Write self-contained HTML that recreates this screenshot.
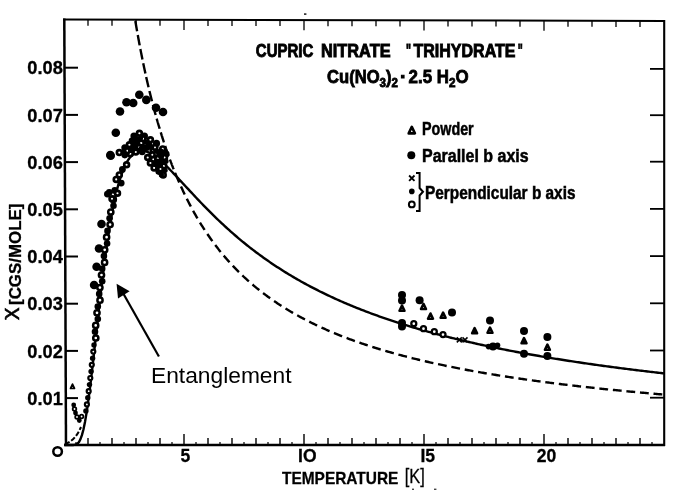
<!DOCTYPE html>
<html><head><meta charset="utf-8"><title>chart</title>
<style>html,body{margin:0;padding:0;background:#fff;}body{width:681px;height:492px;overflow:hidden;}svg{display:block;}text{font-family:"Liberation Sans",sans-serif;fill:#000;}</style>
</head><body>
<svg width="681" height="492" viewBox="0 0 681 492">
<rect width="681" height="492" fill="#fff"/>
<g filter="url(#b)">
<g stroke="#000" fill="none">
<line x1="64.3" y1="18.5" x2="66.0" y2="446" stroke-width="2.5"/>
<line x1="63" y1="19.4" x2="665" y2="21" stroke-width="2.0"/>
<line x1="664.2" y1="20" x2="664.2" y2="446" stroke-width="2.1"/>
<line x1="64.5" y1="444.9" x2="665" y2="445" stroke-width="2.5"/>
<line x1="88.0" y1="445" x2="88.0" y2="438.0" stroke-width="1.4"/>
<line x1="88.0" y1="19.7" x2="88.0" y2="25.7" stroke-width="1.3"/>
<line x1="112.0" y1="445" x2="112.0" y2="438.0" stroke-width="1.4"/>
<line x1="112.0" y1="19.7" x2="112.0" y2="25.7" stroke-width="1.3"/>
<line x1="136.0" y1="445" x2="136.0" y2="438.0" stroke-width="1.4"/>
<line x1="136.0" y1="19.8" x2="136.0" y2="25.8" stroke-width="1.3"/>
<line x1="160.0" y1="445" x2="160.0" y2="438.0" stroke-width="1.4"/>
<line x1="160.0" y1="19.8" x2="160.0" y2="25.8" stroke-width="1.3"/>
<line x1="184.0" y1="445" x2="184.0" y2="434.0" stroke-width="1.4"/>
<line x1="184.0" y1="19.9" x2="184.0" y2="29.9" stroke-width="1.3"/>
<line x1="208.0" y1="445" x2="208.0" y2="438.0" stroke-width="1.4"/>
<line x1="208.0" y1="19.9" x2="208.0" y2="25.9" stroke-width="1.3"/>
<line x1="232.0" y1="445" x2="232.0" y2="438.0" stroke-width="1.4"/>
<line x1="232.0" y1="20.0" x2="232.0" y2="26.0" stroke-width="1.3"/>
<line x1="256.0" y1="445" x2="256.0" y2="438.0" stroke-width="1.4"/>
<line x1="256.0" y1="20.0" x2="256.0" y2="26.0" stroke-width="1.3"/>
<line x1="280.0" y1="445" x2="280.0" y2="438.0" stroke-width="1.4"/>
<line x1="280.0" y1="20.1" x2="280.0" y2="26.1" stroke-width="1.3"/>
<line x1="304.0" y1="445" x2="304.0" y2="434.0" stroke-width="1.4"/>
<line x1="304.0" y1="20.2" x2="304.0" y2="30.2" stroke-width="1.3"/>
<line x1="328.0" y1="445" x2="328.0" y2="438.0" stroke-width="1.4"/>
<line x1="328.0" y1="20.2" x2="328.0" y2="26.2" stroke-width="1.3"/>
<line x1="352.0" y1="445" x2="352.0" y2="438.0" stroke-width="1.4"/>
<line x1="352.0" y1="20.3" x2="352.0" y2="26.3" stroke-width="1.3"/>
<line x1="376.0" y1="445" x2="376.0" y2="438.0" stroke-width="1.4"/>
<line x1="376.0" y1="20.3" x2="376.0" y2="26.3" stroke-width="1.3"/>
<line x1="400.0" y1="445" x2="400.0" y2="438.0" stroke-width="1.4"/>
<line x1="400.0" y1="20.4" x2="400.0" y2="26.4" stroke-width="1.3"/>
<line x1="424.0" y1="445" x2="424.0" y2="434.0" stroke-width="1.4"/>
<line x1="424.0" y1="20.4" x2="424.0" y2="30.4" stroke-width="1.3"/>
<line x1="448.0" y1="445" x2="448.0" y2="438.0" stroke-width="1.4"/>
<line x1="448.0" y1="20.5" x2="448.0" y2="26.5" stroke-width="1.3"/>
<line x1="472.0" y1="445" x2="472.0" y2="438.0" stroke-width="1.4"/>
<line x1="472.0" y1="20.6" x2="472.0" y2="26.6" stroke-width="1.3"/>
<line x1="496.0" y1="445" x2="496.0" y2="438.0" stroke-width="1.4"/>
<line x1="496.0" y1="20.6" x2="496.0" y2="26.6" stroke-width="1.3"/>
<line x1="520.0" y1="445" x2="520.0" y2="438.0" stroke-width="1.4"/>
<line x1="520.0" y1="20.7" x2="520.0" y2="26.7" stroke-width="1.3"/>
<line x1="544.0" y1="445" x2="544.0" y2="434.0" stroke-width="1.4"/>
<line x1="544.0" y1="20.7" x2="544.0" y2="30.7" stroke-width="1.3"/>
<line x1="568.0" y1="445" x2="568.0" y2="438.0" stroke-width="1.4"/>
<line x1="568.0" y1="20.8" x2="568.0" y2="26.8" stroke-width="1.3"/>
<line x1="592.0" y1="445" x2="592.0" y2="438.0" stroke-width="1.4"/>
<line x1="592.0" y1="20.8" x2="592.0" y2="26.8" stroke-width="1.3"/>
<line x1="616.0" y1="445" x2="616.0" y2="438.0" stroke-width="1.4"/>
<line x1="616.0" y1="20.9" x2="616.0" y2="26.9" stroke-width="1.3"/>
<line x1="640.0" y1="445" x2="640.0" y2="438.0" stroke-width="1.4"/>
<line x1="640.0" y1="20.9" x2="640.0" y2="26.9" stroke-width="1.3"/>
<line x1="76.0" y1="445" x2="76.0" y2="442" stroke-width="1.2"/>
<line x1="100.0" y1="445" x2="100.0" y2="442" stroke-width="1.2"/>
<line x1="124.0" y1="445" x2="124.0" y2="442" stroke-width="1.2"/>
<line x1="148.0" y1="445" x2="148.0" y2="442" stroke-width="1.2"/>
<line x1="172.0" y1="445" x2="172.0" y2="442" stroke-width="1.2"/>
<line x1="196.0" y1="445" x2="196.0" y2="442" stroke-width="1.2"/>
<line x1="220.0" y1="445" x2="220.0" y2="442" stroke-width="1.2"/>
<line x1="244.0" y1="445" x2="244.0" y2="442" stroke-width="1.2"/>
<line x1="268.0" y1="445" x2="268.0" y2="442" stroke-width="1.2"/>
<line x1="292.0" y1="445" x2="292.0" y2="442" stroke-width="1.2"/>
<line x1="316.0" y1="445" x2="316.0" y2="442" stroke-width="1.2"/>
<line x1="340.0" y1="445" x2="340.0" y2="442" stroke-width="1.2"/>
<line x1="364.0" y1="445" x2="364.0" y2="442" stroke-width="1.2"/>
<line x1="388.0" y1="445" x2="388.0" y2="442" stroke-width="1.2"/>
<line x1="412.0" y1="445" x2="412.0" y2="442" stroke-width="1.2"/>
<line x1="436.0" y1="445" x2="436.0" y2="442" stroke-width="1.2"/>
<line x1="460.0" y1="445" x2="460.0" y2="442" stroke-width="1.2"/>
<line x1="484.0" y1="445" x2="484.0" y2="442" stroke-width="1.2"/>
<line x1="508.0" y1="445" x2="508.0" y2="442" stroke-width="1.2"/>
<line x1="532.0" y1="445" x2="532.0" y2="442" stroke-width="1.2"/>
<line x1="556.0" y1="445" x2="556.0" y2="442" stroke-width="1.2"/>
<line x1="580.0" y1="445" x2="580.0" y2="442" stroke-width="1.2"/>
<line x1="604.0" y1="445" x2="604.0" y2="442" stroke-width="1.2"/>
<line x1="628.0" y1="445" x2="628.0" y2="442" stroke-width="1.2"/>
<line x1="652.0" y1="445" x2="652.0" y2="442" stroke-width="1.2"/>
<line x1="65" y1="398.1" x2="78" y2="398.1" stroke-width="2"/>
<line x1="650" y1="397.7" x2="664" y2="397.7" stroke-width="1.8"/>
<line x1="65" y1="350.9" x2="78" y2="350.9" stroke-width="2"/>
<line x1="650" y1="350.5" x2="664" y2="350.5" stroke-width="1.8"/>
<line x1="65" y1="303.7" x2="78" y2="303.7" stroke-width="2"/>
<line x1="650" y1="303.3" x2="664" y2="303.3" stroke-width="1.8"/>
<line x1="65" y1="256.5" x2="78" y2="256.5" stroke-width="2"/>
<line x1="650" y1="256.1" x2="664" y2="256.1" stroke-width="1.8"/>
<line x1="65" y1="209.3" x2="78" y2="209.3" stroke-width="2"/>
<line x1="650" y1="208.9" x2="664" y2="208.9" stroke-width="1.8"/>
<line x1="65" y1="162.1" x2="78" y2="162.1" stroke-width="2"/>
<line x1="650" y1="161.7" x2="664" y2="161.7" stroke-width="1.8"/>
<line x1="65" y1="114.9" x2="78" y2="114.9" stroke-width="2"/>
<line x1="650" y1="115.2" x2="664" y2="115.2" stroke-width="1.8"/>
<line x1="65" y1="67.7" x2="78" y2="67.7" stroke-width="2"/>
<line x1="650" y1="68.9" x2="664" y2="68.9" stroke-width="1.8"/>
</g>
<path d="M64.00,445.00 L65.50,445.00 L67.00,445.00 L68.50,445.00 L70.00,445.00 L71.50,445.00 L73.00,444.98 L74.50,444.88 L76.00,444.52 L77.50,443.65 L79.00,441.95 L80.50,439.12 L82.00,434.92 L83.50,429.20 L85.00,421.94 L86.50,413.18 L88.00,403.07 L89.50,391.80 L91.00,379.58 L92.50,366.65 L94.00,353.25 L95.50,339.60 L97.00,325.91 L98.50,312.34 L100.00,299.06 L101.50,286.18 L103.00,273.81 L104.50,262.02 L106.00,250.86 L107.50,240.37 L109.00,230.57 L110.50,221.46 L112.00,213.04 L113.50,205.30 L115.00,198.22 L116.50,191.77 L118.00,185.93 L119.50,180.67 L121.00,175.95 L122.50,171.75 L124.00,168.03 L125.50,164.76 L127.00,161.92 L128.50,159.46 L130.00,157.37 L131.50,155.61 L133.00,154.17 L134.50,153.01 L136.00,152.12 L137.50,151.47 L139.00,151.04 L140.50,150.82 L142.00,150.79 L143.50,150.92 L145.00,151.22 L146.50,151.66 L148.00,152.23 L149.50,152.91 L151.00,153.71 L152.50,154.60 L154.00,155.59 L155.50,156.65 L157.00,157.79 L158.50,158.99 L160.00,160.25 L161.50,161.56 L163.00,162.92 L164.50,164.32 L166.00,165.75 L167.50,167.22 L169.00,168.72 L170.50,170.24 L172.00,171.79 L173.50,173.35 L175.00,174.92 L176.50,176.51 L178.00,178.11 L179.50,179.72 L181.00,181.34 L182.50,182.96 L184.00,184.58 L185.50,186.20 L187.00,187.82 L188.50,189.44 L190.00,191.06 L191.50,192.67 L193.00,194.28 L194.50,195.88 L196.00,197.48 L197.50,199.06 L199.00,200.64 L200.50,202.22 L202.00,203.78 L203.50,205.33 L205.00,206.87 L206.50,208.40 L208.00,209.92 L209.50,211.43 L211.00,212.93 L212.50,214.42 L214.00,215.89 L215.50,217.36 L217.00,218.81 L218.50,220.25 L220.00,221.67 L221.50,223.09 L223.00,224.49 L224.50,225.88 L226.00,227.25 L227.50,228.62 L229.00,229.97 L230.50,231.30 L232.00,232.63 L233.50,233.94 L235.00,235.24 L236.50,236.53 L238.00,237.81 L239.50,239.07 L241.00,240.32 L242.50,241.56 L244.00,242.78 L245.50,244.00 L247.00,245.20 L248.50,246.39 L250.00,247.57 L251.50,248.74 L253.00,249.89 L254.50,251.04 L256.00,252.17 L257.50,253.29 L259.00,254.40 L260.50,255.50 L262.00,256.59 L263.50,257.66 L265.00,258.73 L266.50,259.79 L268.00,260.83 L269.50,261.87 L271.00,262.89 L272.50,263.91 L274.00,264.91 L275.50,265.91 L277.00,266.89 L278.50,267.87 L280.00,268.84 L281.50,269.79 L283.00,270.74 L284.50,271.68 L286.00,272.61 L287.50,273.53 L289.00,274.44 L290.50,275.34 L292.00,276.23 L293.50,277.12 L295.00,278.00 L296.50,278.86 L298.00,279.72 L299.50,280.57 L301.00,281.42 L302.50,282.25 L304.00,283.08 L305.50,283.90 L307.00,284.71 L308.50,285.52 L310.00,286.32 L311.50,287.11 L313.00,287.89 L314.50,288.66 L316.00,289.43 L317.50,290.19 L319.00,290.95 L320.50,291.70 L322.00,292.44 L323.50,293.17 L325.00,293.90 L326.50,294.62 L328.00,295.33 L329.50,296.04 L331.00,296.74 L332.50,297.44 L334.00,298.13 L335.50,298.81 L337.00,299.49 L338.50,300.16 L340.00,300.82 L341.50,301.48 L343.00,302.14 L344.50,302.78 L346.00,303.43 L347.50,304.06 L349.00,304.69 L350.50,305.32 L352.00,305.94 L353.50,306.56 L355.00,307.17 L356.50,307.77 L358.00,308.37 L359.50,308.97 L361.00,309.56 L362.50,310.14 L364.00,310.72 L365.50,311.30 L367.00,311.87 L368.50,312.44 L370.00,313.00 L371.50,313.56 L373.00,314.11 L374.50,314.66 L376.00,315.20 L377.50,315.74 L379.00,316.28 L380.50,316.81 L382.00,317.33 L383.50,317.85 L385.00,318.37 L386.50,318.89 L388.00,319.40 L389.50,319.90 L391.00,320.41 L392.50,320.90 L394.00,321.40 L395.50,321.89 L397.00,322.38 L398.50,322.86 L400.00,323.34 L401.50,323.82 L403.00,324.29 L404.50,324.76 L406.00,325.22 L407.50,325.68 L409.00,326.14 L410.50,326.60 L412.00,327.05 L413.50,327.50 L415.00,327.94 L416.50,328.38 L418.00,328.82 L419.50,329.26 L421.00,329.69 L422.50,330.12 L424.00,330.54 L425.50,330.96 L427.00,331.38 L428.50,331.80 L430.00,332.21 L431.50,332.63 L433.00,333.03 L434.50,333.44 L436.00,333.84 L437.50,334.24 L439.00,334.64 L440.50,335.03 L442.00,335.42 L443.50,335.81 L445.00,336.19 L446.50,336.58 L448.00,336.96 L449.50,337.34 L451.00,337.71 L452.50,338.08 L454.00,338.45 L455.50,338.82 L457.00,339.19 L458.50,339.55 L460.00,339.91 L461.50,340.27 L463.00,340.62 L464.50,340.97 L466.00,341.32 L467.50,341.67 L469.00,342.02 L470.50,342.36 L472.00,342.70 L473.50,343.04 L475.00,343.38 L476.50,343.72 L478.00,344.05 L479.50,344.38 L481.00,344.71 L482.50,345.03 L484.00,345.36 L485.50,345.68 L487.00,346.00 L488.50,346.32 L490.00,346.63 L491.50,346.95 L493.00,347.26 L494.50,347.57 L496.00,347.88 L497.50,348.19 L499.00,348.49 L500.50,348.79 L502.00,349.09 L503.50,349.39 L505.00,349.69 L506.50,349.99 L508.00,350.28 L509.50,350.57 L511.00,350.86 L512.50,351.15 L514.00,351.44 L515.50,351.72 L517.00,352.00 L518.50,352.28 L520.00,352.56 L521.50,352.84 L523.00,353.12 L524.50,353.39 L526.00,353.67 L527.50,353.94 L529.00,354.21 L530.50,354.48 L532.00,354.74 L533.50,355.01 L535.00,355.27 L536.50,355.53 L538.00,355.79 L539.50,356.05 L541.00,356.31 L542.50,356.57 L544.00,356.82 L545.50,357.08 L547.00,357.33 L548.50,357.58 L550.00,357.83 L551.50,358.07 L553.00,358.32 L554.50,358.57 L556.00,358.81 L557.50,359.05 L559.00,359.29 L560.50,359.53 L562.00,359.77 L563.50,360.01 L565.00,360.24 L566.50,360.48 L568.00,360.71 L569.50,360.94 L571.00,361.17 L572.50,361.40 L574.00,361.63 L575.50,361.86 L577.00,362.08 L578.50,362.31 L580.00,362.53 L581.50,362.75 L583.00,362.97 L584.50,363.19 L586.00,363.41 L587.50,363.63 L589.00,363.84 L590.50,364.06 L592.00,364.27 L593.50,364.48 L595.00,364.70 L596.50,364.91 L598.00,365.12 L599.50,365.32 L601.00,365.53 L602.50,365.74 L604.00,365.94 L605.50,366.15 L607.00,366.35 L608.50,366.55 L610.00,366.75 L611.50,366.95 L613.00,367.15 L614.50,367.35 L616.00,367.55 L617.50,367.74 L619.00,367.94 L620.50,368.13 L622.00,368.33 L623.50,368.52 L625.00,368.71 L626.50,368.90 L628.00,369.09 L629.50,369.28 L631.00,369.46 L632.50,369.65 L634.00,369.84 L635.50,370.02 L637.00,370.21 L638.50,370.39 L640.00,370.57 L641.50,370.75 L643.00,370.93 L644.50,371.11 L646.00,371.29 L647.50,371.47 L649.00,371.64 L650.50,371.82 L652.00,372.00 L653.50,372.17 L655.00,372.34 L656.50,372.52 L658.00,372.69 L659.50,372.86 L661.00,373.03 L662.50,373.20 L664.00,373.37" fill="none" stroke="#000" stroke-width="2.4"/>
<path d="M135.33,20.96 L135.47,21.83 L135.62,22.69 L135.77,23.56 L135.91,24.41 L136.06,25.27 L136.21,26.12 L136.35,26.97 L136.50,27.81 L136.64,28.65 L136.79,29.49 L136.94,30.32 L137.08,31.15 L137.23,31.98 L137.38,32.80 L137.52,33.62 L137.67,34.44 L137.82,35.25 L137.96,36.06 L138.11,36.87 L138.25,37.67 L138.40,38.47 L138.55,39.27 L138.69,40.07 L138.84,40.86 L138.99,41.65 L139.13,42.43 L139.28,43.22 L139.42,44.00 L139.57,44.77 L139.72,45.55 L139.86,46.32 L140.01,47.08 L140.16,47.85 L140.30,48.61 L140.45,49.37 L140.60,50.12 L140.74,50.88 L140.89,51.63 L141.03,52.37 L141.18,53.12 L141.33,53.86 L141.47,54.60 L141.62,55.33 L141.77,56.07 L141.91,56.80 L142.06,57.53 L142.21,58.25 L142.35,58.97 L142.50,59.69 L142.64,60.41 L142.79,61.12 L142.94,61.83 L143.08,62.54 L143.23,63.25 L143.38,63.95 L143.52,64.66 L143.67,65.35 L143.81,66.05 L143.96,66.74 L144.11,67.43 L144.25,68.12 L144.40,68.81 L144.55,69.49 L144.69,70.17 L144.84,70.85 L144.99,71.53 L145.13,72.20 L145.28,72.87 L145.42,73.54 L145.57,74.21 L145.72,74.87 L145.86,75.53 L146.01,76.19 L146.16,76.85 L146.30,77.50 L146.45,78.15 L146.59,78.80 L146.74,79.45 L146.89,80.10 L147.03,80.74 L147.18,81.38 L147.33,82.02 L147.47,82.66 L147.62,83.29 L147.77,83.92 L147.91,84.55 L148.06,85.18 L148.20,85.80 L148.35,86.43 L148.50,87.05 L148.64,87.67 L148.79,88.28 L148.94,88.90 L149.08,89.51 L149.23,90.12 L149.37,90.73 L149.52,91.34 L149.67,91.94 L149.81,92.54 L149.96,93.14 L150.11,93.74 L150.25,94.34 L150.40,94.93 L150.55,95.52 L150.69,96.11 L150.84,96.70 L150.98,97.28 L151.13,97.87 L151.28,98.45 L151.42,99.03 L151.57,99.61 L151.72,100.18 L151.86,100.76 L152.01,101.33 L152.15,101.90 L152.30,102.47 L152.45,103.04 L152.59,103.60 L152.74,104.16 L152.89,104.73 L153.03,105.28 L153.18,105.84 L153.33,106.40 L153.47,106.95 L153.62,107.50 L153.76,108.05 L153.91,108.60 L154.06,109.15 L154.20,109.69 L154.35,110.24 L154.50,110.78 L154.64,111.32 L154.79,111.85 L154.93,112.39 L155.08,112.93 L155.23,113.46 L155.37,113.99 L155.52,114.52 L155.67,115.05 L155.81,115.57 L155.96,116.10 L156.11,116.62 L156.25,117.14 L156.40,117.66 L156.54,118.18 L156.69,118.69 L156.84,119.21 L156.98,119.72 L157.13,120.23 L157.28,120.74 L157.42,121.25 L157.57,121.75 L157.71,122.26 L157.86,122.76 L158.01,123.26 L158.15,123.76 L158.30,124.26 L158.45,124.76 L158.59,125.25 L158.74,125.75 L158.89,126.24 L159.03,126.73 L159.18,127.22 L159.32,127.71 L159.47,128.19 L159.62,128.68 L159.76,129.16 L159.91,129.64 L160.06,130.12 L160.20,130.60 L160.35,131.08 L160.50,131.56 L160.64,132.03 L160.79,132.50 L160.93,132.98 L161.08,133.45 L161.23,133.91 L161.37,134.38 L161.52,134.85 L161.67,135.31 L161.81,135.78 L161.96,136.24 L162.10,136.70 L162.25,137.16 L162.40,137.62 L162.54,138.07 L162.69,138.53 L162.84,138.98 L162.98,139.43 L163.13,139.88 L163.28,140.33 L163.42,140.78 L163.57,141.23 L163.71,141.68 L163.86,142.12 L164.01,142.56 L164.15,143.00 L164.30,143.45 L164.45,143.88 L164.59,144.32 L164.74,144.76 L164.88,145.19 L165.03,145.63 L165.18,146.06 L165.32,146.49 L165.47,146.92 L165.62,147.35 L165.76,147.78 L165.91,148.21 L166.06,148.63 L166.20,149.06 L166.35,149.48 L166.49,149.90 L166.64,150.32 L166.79,150.74 L166.93,151.16 L167.08,151.58 L167.23,151.99 L167.37,152.41 L167.52,152.82 L167.66,153.23 L167.81,153.65 L167.96,154.06 L168.10,154.47 L168.25,154.87 L168.40,155.28 L168.54,155.68 L168.69,156.09 L168.84,156.49 L168.98,156.89 L169.13,157.30 L169.27,157.70 L169.42,158.09 L169.57,158.49 L169.71,158.89 L169.86,159.28 L170.01,159.68 L170.15,160.07 L170.30,160.46 L170.44,160.85 L170.59,161.25 L170.74,161.63 L170.88,162.02 L171.03,162.41 L171.18,162.79 L171.32,163.18 L171.47,163.56 L171.62,163.95 L171.76,164.33 L171.91,164.71 L172.05,165.09 L172.20,165.47 L172.35,165.84 L172.49,166.22 L172.64,166.60 L172.79,166.97 L172.93,167.34 L173.08,167.72 L173.22,168.09 L173.37,168.46 L173.52,168.83 L173.66,169.20 L173.81,169.56 L173.96,169.93 L174.10,170.30 L174.25,170.66 L174.40,171.02 L174.54,171.39 L174.69,171.75 L174.83,172.11 L174.98,172.47 L175.13,172.83 L175.27,173.19 L175.42,173.54 L175.57,173.90 L175.71,174.25 L175.86,174.61 L176.00,174.96 L176.15,175.31 L176.30,175.66 L176.44,176.01 L176.59,176.36 L176.74,176.71 L176.88,177.06 L177.03,177.41 L177.18,177.75 L177.32,178.10 L177.47,178.44 L177.61,178.79 L177.76,179.13 L177.91,179.47 L178.05,179.81 L178.20,180.15 L178.35,180.49 L178.49,180.83 L178.64,181.16 L178.79,181.50 L178.93,181.84 L179.08,182.17 L179.22,182.50" fill="none" stroke="#000" stroke-width="2.4" stroke-dasharray="10.5 3.8"/>
<path d="M180.98,186.44 L182.18,189.08 L183.39,191.67 L184.60,194.20 L185.81,196.69 L187.01,199.13 L188.22,201.52 L189.43,203.86 L190.64,206.16 L191.84,208.42 L193.05,210.63 L194.26,212.80 L195.47,214.94 L196.67,217.03 L197.88,219.09 L199.09,221.11 L200.30,223.09 L201.50,225.04 L202.71,226.95 L203.92,228.83 L205.13,230.68 L206.33,232.50 L207.54,234.29 L208.75,236.05 L209.96,237.78 L211.16,239.48 L212.37,241.15 L213.58,242.80 L214.79,244.41 L216.00,246.01 L217.20,247.58 L218.41,249.12 L219.62,250.64 L220.83,252.14 L222.03,253.61 L223.24,255.06 L224.45,256.49 L225.66,257.90 L226.86,259.29 L228.07,260.65 L229.28,262.00 L230.49,263.33 L231.69,264.64 L232.90,265.93 L234.11,267.20 L235.32,268.45 L236.52,269.69 L237.73,270.90 L238.94,272.11 L240.15,273.29 L241.35,274.46 L242.56,275.61 L243.77,276.75 L244.98,277.87 L246.18,278.98 L247.39,280.08 L248.60,281.15 L249.81,282.22 L251.01,283.27 L252.22,284.31 L253.43,285.33 L254.64,286.34 L255.84,287.34 L257.05,288.33 L258.26,289.30 L259.47,290.26 L260.67,291.21 L261.88,292.15 L263.09,293.08 L264.30,294.00 L265.51,294.90 L266.71,295.79 L267.92,296.68 L269.13,297.55 L270.34,298.41 L271.54,299.27 L272.75,300.11 L273.96,300.94 L275.17,301.77 L276.37,302.58 L277.58,303.39 L278.79,304.18 L280.00,304.97 L281.20,305.75 L282.41,306.52 L283.62,307.28 L284.83,308.03 L286.03,308.78 L287.24,309.52 L288.45,310.24 L289.66,310.97 L290.86,311.68 L292.07,312.38 L293.28,313.08 L294.49,313.77 L295.69,314.46 L296.90,315.14 L298.11,315.80 L299.32,316.47 L300.52,317.12 L301.73,317.77 L302.94,318.42 L304.15,319.05 L305.35,319.68 L306.56,320.31 L307.77,320.92 L308.98,321.54 L310.18,322.14 L311.39,322.74 L312.60,323.34 L313.81,323.92 L315.02,324.51 L316.22,325.08 L317.43,325.65 L318.64,326.22 L319.85,326.78 L321.05,327.34 L322.26,327.89 L323.47,328.43 L324.68,328.97 L325.88,329.51 L327.09,330.04 L328.30,330.56 L329.51,331.08 L330.71,331.60 L331.92,332.11 L333.13,332.62 L334.34,333.12 L335.54,333.62 L336.75,334.11 L337.96,334.60 L339.17,335.08 L340.37,335.56 L341.58,336.04 L342.79,336.51 L344.00,336.98 L345.20,337.44 L346.41,337.90 L347.62,338.36 L348.83,338.81 L350.03,339.26 L351.24,339.70 L352.45,340.14 L353.66,340.58 L354.86,341.01 L356.07,341.44 L357.28,341.87 L358.49,342.29 L359.69,342.71 L360.90,343.13 L362.11,343.54 L363.32,343.95 L364.53,344.36 L365.73,344.76 L366.94,345.16 L368.15,345.56 L369.36,345.95 L370.56,346.34 L371.77,346.73 L372.98,347.11 L374.19,347.49 L375.39,347.87 L376.60,348.24 L377.81,348.62 L379.02,348.99 L380.22,349.35 L381.43,349.72 L382.64,350.08 L383.85,350.44 L385.05,350.79 L386.26,351.15 L387.47,351.50 L388.68,351.84 L389.88,352.19 L391.09,352.53 L392.30,352.87 L393.51,353.21 L394.71,353.54 L395.92,353.88 L397.13,354.21 L398.34,354.54 L399.54,354.86 L400.75,355.18 L401.96,355.50 L403.17,355.82 L404.37,356.14 L405.58,356.45 L406.79,356.77 L408.00,357.08 L409.20,357.38 L410.41,357.69 L411.62,357.99 L412.83,358.29 L414.04,358.59 L415.24,358.89 L416.45,359.18 L417.66,359.48 L418.87,359.77 L420.07,360.06 L421.28,360.34 L422.49,360.63 L423.70,360.91 L424.90,361.19 L426.11,361.47 L427.32,361.75 L428.53,362.03 L429.73,362.30 L430.94,362.57 L432.15,362.84 L433.36,363.11 L434.56,363.38 L435.77,363.64 L436.98,363.91 L438.19,364.17 L439.39,364.43 L440.60,364.69 L441.81,364.94 L443.02,365.20 L444.22,365.45 L445.43,365.70 L446.64,365.95 L447.85,366.20 L449.05,366.45 L450.26,366.70 L451.47,366.94 L452.68,367.18 L453.88,367.42 L455.09,367.66 L456.30,367.90 L457.51,368.14 L458.71,368.37 L459.92,368.61 L461.13,368.84 L462.34,369.07 L463.55,369.30 L464.75,369.53 L465.96,369.75 L467.17,369.98 L468.38,370.20 L469.58,370.43 L470.79,370.65 L472.00,370.87 L473.21,371.09 L474.41,371.30 L475.62,371.52 L476.83,371.74 L478.04,371.95 L479.24,372.16 L480.45,372.37 L481.66,372.58 L482.87,372.79 L484.07,373.00 L485.28,373.21 L486.49,373.41 L487.70,373.61 L488.90,373.82 L490.11,374.02 L491.32,374.22 L492.53,374.42 L493.73,374.62 L494.94,374.81 L496.15,375.01 L497.36,375.21 L498.56,375.40 L499.77,375.59 L500.98,375.78 L502.19,375.98 L503.39,376.16 L504.60,376.35 L505.81,376.54 L507.02,376.73 L508.22,376.91 L509.43,377.10 L510.64,377.28 L511.85,377.46 L513.05,377.65 L514.26,377.83 L515.47,378.01 L516.68,378.18 L517.89,378.36 L519.09,378.54 L520.30,378.72 L521.51,378.89 L522.72,379.06 L523.92,379.24 L525.13,379.41 L526.34,379.58 L527.55,379.75 L528.75,379.92 L529.96,380.09 L531.17,380.26 L532.38,380.42 L533.58,380.59 L534.79,380.76 L536.00,380.92 L537.21,381.08 L538.41,381.25 L539.62,381.41 L540.83,381.57 L542.04,381.73 L543.24,381.89 L544.45,382.05 L545.66,382.21 L546.87,382.36 L548.07,382.52 L549.28,382.67 L550.49,382.83 L551.70,382.98 L552.90,383.14 L554.11,383.29 L555.32,383.44 L556.53,383.59 L557.73,383.74 L558.94,383.89 L560.15,384.04 L561.36,384.19 L562.56,384.33 L563.77,384.48 L564.98,384.63 L566.19,384.77 L567.40,384.92 L568.60,385.06 L569.81,385.20 L571.02,385.35 L572.23,385.49 L573.43,385.63 L574.64,385.77 L575.85,385.91 L577.06,386.05 L578.26,386.19 L579.47,386.32 L580.68,386.46 L581.89,386.60 L583.09,386.73 L584.30,386.87 L585.51,387.00 L586.72,387.14 L587.92,387.27 L589.13,387.40 L590.34,387.54 L591.55,387.67 L592.75,387.80 L593.96,387.93 L595.17,388.06 L596.38,388.19 L597.58,388.32 L598.79,388.44 L600.00,388.57 L601.21,388.70 L602.41,388.82 L603.62,388.95 L604.83,389.08 L606.04,389.20 L607.24,389.32 L608.45,389.45 L609.66,389.57 L610.87,389.69 L612.07,389.81 L613.28,389.94 L614.49,390.06 L615.70,390.18 L616.91,390.30 L618.11,390.42 L619.32,390.53 L620.53,390.65 L621.74,390.77 L622.94,390.89 L624.15,391.00 L625.36,391.12 L626.57,391.24 L627.77,391.35 L628.98,391.47 L630.19,391.58 L631.40,391.69 L632.60,391.81 L633.81,391.92 L635.02,392.03 L636.23,392.14 L637.43,392.25 L638.64,392.37 L639.85,392.48 L641.06,392.59 L642.26,392.70 L643.47,392.80 L644.68,392.91 L645.89,393.02 L647.09,393.13 L648.30,393.24 L649.51,393.34 L650.72,393.45 L651.92,393.56 L653.13,393.66 L654.34,393.77 L655.55,393.87 L656.75,393.97 L657.96,394.08 L659.17,394.18 L660.38,394.28 L661.58,394.39 L662.79,394.49 L664.00,394.59" fill="none" stroke="#000" stroke-width="2.4" stroke-dasharray="8.8 4.8"/>
<path d="M65,444 Q75,441 81,427" fill="none" stroke="#000" stroke-width="2" stroke-dasharray="5 2"/>
<circle cx="110.3" cy="155.0" r="4.3" fill="#000"/>
<circle cx="115.8" cy="132.8" r="4.3" fill="#000"/>
<circle cx="120.0" cy="111.5" r="4.3" fill="#000"/>
<circle cx="126.5" cy="102.3" r="4.3" fill="#000"/>
<circle cx="133.2" cy="103.0" r="4.3" fill="#000"/>
<circle cx="139.3" cy="94.7" r="4.3" fill="#000"/>
<circle cx="146.3" cy="99.9" r="4.3" fill="#000"/>
<circle cx="156.0" cy="107.8" r="4.3" fill="#000"/>
<circle cx="163.0" cy="112.0" r="4.3" fill="#000"/>
<circle cx="110.7" cy="155.7" r="4.3" fill="#000"/>
<circle cx="101.5" cy="224.0" r="4.3" fill="#000"/>
<circle cx="99.0" cy="248.5" r="4.3" fill="#000"/>
<circle cx="96.6" cy="266.8" r="4.3" fill="#000"/>
<circle cx="94.1" cy="285.0" r="4.3" fill="#000"/>
<circle cx="95.8" cy="338.0" r="2.6" fill="#fff" stroke="#000" stroke-width="2.5"/>
<circle cx="95.0" cy="331.7" r="3.3" fill="#000"/>
<circle cx="95.7" cy="325.4" r="2.6" fill="#fff" stroke="#000" stroke-width="2.5"/>
<circle cx="97.8" cy="319.1" r="3.3" fill="#000"/>
<circle cx="97.0" cy="312.8" r="2.6" fill="#fff" stroke="#000" stroke-width="2.5"/>
<circle cx="97.8" cy="306.5" r="3.3" fill="#000"/>
<circle cx="100.0" cy="300.2" r="2.6" fill="#fff" stroke="#000" stroke-width="2.5"/>
<circle cx="99.2" cy="293.9" r="3.3" fill="#000"/>
<circle cx="99.9" cy="287.6" r="2.6" fill="#fff" stroke="#000" stroke-width="2.5"/>
<circle cx="102.2" cy="281.3" r="3.3" fill="#000"/>
<circle cx="101.5" cy="275.0" r="2.6" fill="#fff" stroke="#000" stroke-width="2.5"/>
<circle cx="102.2" cy="268.7" r="3.3" fill="#000"/>
<circle cx="104.6" cy="262.4" r="2.6" fill="#fff" stroke="#000" stroke-width="2.5"/>
<circle cx="103.9" cy="256.1" r="3.3" fill="#000"/>
<circle cx="104.7" cy="249.8" r="2.6" fill="#fff" stroke="#000" stroke-width="2.5"/>
<circle cx="107.1" cy="243.5" r="3.3" fill="#000"/>
<circle cx="106.6" cy="237.2" r="2.6" fill="#fff" stroke="#000" stroke-width="2.5"/>
<circle cx="107.5" cy="230.9" r="3.3" fill="#000"/>
<circle cx="110.1" cy="224.6" r="2.6" fill="#fff" stroke="#000" stroke-width="2.5"/>
<circle cx="109.6" cy="218.3" r="3.3" fill="#000"/>
<circle cx="110.8" cy="212.0" r="2.6" fill="#fff" stroke="#000" stroke-width="2.5"/>
<circle cx="113.5" cy="205.7" r="3.3" fill="#000"/>
<circle cx="113.3" cy="199.4" r="2.6" fill="#fff" stroke="#000" stroke-width="2.5"/>
<circle cx="73.7" cy="404.9" r="2.4" fill="#000"/>
<circle cx="74.5" cy="409.0" r="1.8" fill="#fff" stroke="#000" stroke-width="1.8"/>
<circle cx="75.5" cy="413.0" r="2.4" fill="#000"/>
<circle cx="77.0" cy="417.0" r="1.8" fill="#fff" stroke="#000" stroke-width="1.8"/>
<circle cx="79.3" cy="420.5" r="2.4" fill="#000"/>
<circle cx="81.6" cy="416.5" r="1.8" fill="#fff" stroke="#000" stroke-width="1.8"/>
<circle cx="85.9" cy="411.0" r="2.7" fill="#000"/>
<circle cx="86.9" cy="404.4" r="2.0" fill="#fff" stroke="#000" stroke-width="2.2"/>
<circle cx="87.8" cy="397.8" r="2.7" fill="#000"/>
<circle cx="88.7" cy="391.2" r="2.0" fill="#fff" stroke="#000" stroke-width="2.2"/>
<circle cx="89.5" cy="384.6" r="2.7" fill="#000"/>
<circle cx="90.3" cy="378.0" r="2.0" fill="#fff" stroke="#000" stroke-width="2.2"/>
<circle cx="91.1" cy="371.4" r="2.7" fill="#000"/>
<circle cx="91.8" cy="364.8" r="2.0" fill="#fff" stroke="#000" stroke-width="2.2"/>
<circle cx="92.6" cy="358.2" r="2.7" fill="#000"/>
<circle cx="93.3" cy="351.6" r="2.0" fill="#fff" stroke="#000" stroke-width="2.2"/>
<circle cx="94.0" cy="345.0" r="2.7" fill="#000"/>
<path d="M72.5,384.1 L74.5,388.4 L70.5,388.4 Z" fill="#fff" stroke="#000" stroke-width="1.7" stroke-linejoin="round"/>
<circle cx="134.0" cy="136.1" r="3.6" fill="#000"/>
<circle cx="139.4" cy="133.2" r="2.4" fill="#fff" stroke="#000" stroke-width="2.7"/>
<circle cx="144.4" cy="136.1" r="3.6" fill="#000"/>
<circle cx="150.4" cy="139.8" r="2.4" fill="#fff" stroke="#000" stroke-width="2.7"/>
<circle cx="156.5" cy="143.4" r="3.6" fill="#000"/>
<circle cx="162.7" cy="148.9" r="2.4" fill="#fff" stroke="#000" stroke-width="2.7"/>
<circle cx="166.0" cy="154.0" r="3.6" fill="#000"/>
<circle cx="119.3" cy="152.6" r="2.4" fill="#fff" stroke="#000" stroke-width="2.7"/>
<circle cx="124.8" cy="147.8" r="3.5" fill="#000"/>
<circle cx="129.4" cy="144.7" r="2.4" fill="#fff" stroke="#000" stroke-width="2.7"/>
<circle cx="134.9" cy="143.8" r="3.5" fill="#000"/>
<circle cx="141.3" cy="142.9" r="2.4" fill="#fff" stroke="#000" stroke-width="2.7"/>
<circle cx="146.8" cy="147.4" r="3.5" fill="#000"/>
<circle cx="153.2" cy="150.2" r="2.4" fill="#fff" stroke="#000" stroke-width="2.7"/>
<circle cx="159.6" cy="153.8" r="3.5" fill="#000"/>
<circle cx="164.5" cy="157.5" r="2.4" fill="#fff" stroke="#000" stroke-width="2.7"/>
<circle cx="124.8" cy="155.1" r="3.3" fill="#000"/>
<circle cx="130.3" cy="153.8" r="2.4" fill="#fff" stroke="#000" stroke-width="2.7"/>
<circle cx="135.8" cy="152.0" r="2.4" fill="#fff" stroke="#000" stroke-width="2.7"/>
<circle cx="142.2" cy="152.0" r="3.3" fill="#000"/>
<circle cx="147.7" cy="157.5" r="2.4" fill="#fff" stroke="#000" stroke-width="2.7"/>
<circle cx="153.2" cy="159.3" r="2.4" fill="#fff" stroke="#000" stroke-width="2.7"/>
<circle cx="158.7" cy="163.9" r="3.3" fill="#000"/>
<circle cx="163.8" cy="166.1" r="2.4" fill="#fff" stroke="#000" stroke-width="2.7"/>
<circle cx="163.2" cy="174.9" r="2.4" fill="#fff" stroke="#000" stroke-width="2.7"/>
<circle cx="158.7" cy="171.6" r="3.3" fill="#000"/>
<circle cx="154.1" cy="167.9" r="2.4" fill="#fff" stroke="#000" stroke-width="2.7"/>
<circle cx="150.4" cy="163.0" r="2.4" fill="#fff" stroke="#000" stroke-width="2.7"/>
<circle cx="136.7" cy="139.2" r="3.1" fill="#000"/>
<circle cx="143.1" cy="138.8" r="2.3" fill="#fff" stroke="#000" stroke-width="2.7"/>
<circle cx="149.1" cy="143.8" r="3.1" fill="#000"/>
<circle cx="155.0" cy="147.4" r="2.3" fill="#fff" stroke="#000" stroke-width="2.7"/>
<circle cx="160.8" cy="151.5" r="3.1" fill="#000"/>
<circle cx="157.7" cy="158.4" r="2.3" fill="#fff" stroke="#000" stroke-width="2.7"/>
<circle cx="162.7" cy="161.7" r="3.1" fill="#000"/>
<circle cx="152.3" cy="154.8" r="2.3" fill="#fff" stroke="#000" stroke-width="2.7"/>
<circle cx="131.8" cy="140.5" r="3.1" fill="#000"/>
<circle cx="127.2" cy="150.7" r="2.3" fill="#fff" stroke="#000" stroke-width="2.7"/>
<circle cx="133.0" cy="148.7" r="3.1" fill="#000"/>
<circle cx="138.9" cy="147.4" r="2.3" fill="#fff" stroke="#000" stroke-width="2.7"/>
<circle cx="144.4" cy="147.8" r="3.1" fill="#000"/>
<circle cx="160.5" cy="169.0" r="2.3" fill="#fff" stroke="#000" stroke-width="2.7"/>
<circle cx="155.4" cy="163.9" r="3.1" fill="#000"/>
<circle cx="134.9" cy="147.4" r="2.6" fill="#000"/>
<circle cx="140.4" cy="138.3" r="2.6" fill="#000"/>
<circle cx="145.8" cy="141.9" r="2.6" fill="#000"/>
<circle cx="151.3" cy="146.5" r="2.6" fill="#000"/>
<circle cx="156.8" cy="151.1" r="2.6" fill="#000"/>
<circle cx="161.4" cy="156.6" r="2.6" fill="#000"/>
<circle cx="160.5" cy="163.9" r="2.6" fill="#000"/>
<circle cx="156.8" cy="161.2" r="2.6" fill="#000"/>
<circle cx="140.4" cy="149.3" r="2.6" fill="#000"/>
<circle cx="131.2" cy="150.2" r="2.6" fill="#000"/>
<circle cx="123.9" cy="151.5" r="2.6" fill="#000"/>
<circle cx="166.0" cy="161.2" r="2.6" fill="#000"/>
<circle cx="165.1" cy="170.3" r="2.6" fill="#000"/>
<circle cx="161.4" cy="174.9" r="2.6" fill="#000"/>
<circle cx="126.6" cy="164.8" r="2.4" fill="#fff" stroke="#000" stroke-width="2.7"/>
<circle cx="122.4" cy="169.4" r="3.4" fill="#000"/>
<circle cx="119.3" cy="174.9" r="2.4" fill="#fff" stroke="#000" stroke-width="2.7"/>
<circle cx="121.2" cy="183.1" r="3.4" fill="#000"/>
<circle cx="116.2" cy="179.4" r="2.4" fill="#fff" stroke="#000" stroke-width="2.7"/>
<circle cx="114.8" cy="190.4" r="3.4" fill="#000"/>
<circle cx="117.5" cy="193.2" r="2.4" fill="#fff" stroke="#000" stroke-width="2.7"/>
<circle cx="107.4" cy="194.1" r="3.4" fill="#000"/>
<circle cx="112.0" cy="198.7" r="2.4" fill="#fff" stroke="#000" stroke-width="2.7"/>
<circle cx="109.3" cy="192.3" r="3.4" fill="#000"/>
<circle cx="402.0" cy="295.0" r="4.0" fill="#000"/>
<circle cx="402.0" cy="300.5" r="4.0" fill="#000"/>
<circle cx="402.0" cy="323.0" r="4.0" fill="#000"/>
<circle cx="402.0" cy="326.5" r="4.0" fill="#000"/>
<circle cx="419.6" cy="300.2" r="4.0" fill="#000"/>
<circle cx="452.0" cy="312.6" r="4.0" fill="#000"/>
<circle cx="490.0" cy="320.5" r="4.0" fill="#000"/>
<circle cx="524.0" cy="331.0" r="4.0" fill="#000"/>
<circle cx="524.0" cy="353.7" r="4.0" fill="#000"/>
<circle cx="547.4" cy="337.0" r="4.0" fill="#000"/>
<circle cx="547.4" cy="356.0" r="4.0" fill="#000"/>
<circle cx="493.0" cy="346.4" r="4.0" fill="#000"/>
<path d="M402.0,305.6 L404.5,310.8 L399.5,310.8 Z" fill="#fff" stroke="#000" stroke-width="2.5" stroke-linejoin="round"/>
<path d="M423.5,303.8 L426.0,309.0 L421.0,309.0 Z" fill="#fff" stroke="#000" stroke-width="2.5" stroke-linejoin="round"/>
<path d="M430.5,313.5 L433.0,318.7 L428.0,318.7 Z" fill="#fff" stroke="#000" stroke-width="2.5" stroke-linejoin="round"/>
<path d="M443.1,312.6 L445.6,317.8 L440.6,317.8 Z" fill="#fff" stroke="#000" stroke-width="2.5" stroke-linejoin="round"/>
<path d="M474.6,328.1 L477.1,333.3 L472.1,333.3 Z" fill="#fff" stroke="#000" stroke-width="2.5" stroke-linejoin="round"/>
<path d="M490.0,327.6 L492.5,332.8 L487.5,332.8 Z" fill="#fff" stroke="#000" stroke-width="2.5" stroke-linejoin="round"/>
<path d="M524.0,338.1 L526.5,343.3 L521.5,343.3 Z" fill="#fff" stroke="#000" stroke-width="2.5" stroke-linejoin="round"/>
<path d="M547.4,344.6 L549.9,349.8 L544.9,349.8 Z" fill="#fff" stroke="#000" stroke-width="2.5" stroke-linejoin="round"/>
<circle cx="413.8" cy="323.7" r="2.5" fill="#fff" stroke="#000" stroke-width="2.3"/>
<circle cx="423.5" cy="328.7" r="2.5" fill="#fff" stroke="#000" stroke-width="2.3"/>
<circle cx="434.3" cy="331.7" r="2.5" fill="#fff" stroke="#000" stroke-width="2.3"/>
<circle cx="443.0" cy="334.6" r="2.5" fill="#fff" stroke="#000" stroke-width="2.3"/>
<circle cx="488.5" cy="346.6" r="2.8" fill="#000"/>
<circle cx="497.5" cy="345.2" r="2.8" fill="#000"/>
<path d="M456.8,337.4 L461.8,342.4 M456.8,342.4 L461.8,337.4" stroke="#000" stroke-width="1.5" fill="none"/>
<path d="M462.5,337.4 L467.5,342.4 M462.5,342.4 L467.5,337.4" stroke="#000" stroke-width="1.5" fill="none"/>
<circle cx="57.6" cy="451.5" r="4.3" fill="#fff" stroke="#000" stroke-width="2.5"/>
<path d="M411.8,126.9 L414.9,133.4 L408.7,133.4 Z" fill="#fff" stroke="#000" stroke-width="2.6" stroke-linejoin="round"/>
<circle cx="411.3" cy="155.3" r="4.0" fill="#000"/>
<path d="M409.1,175.5 L414.5,180.9 M409.1,180.9 L414.5,175.5" stroke="#000" stroke-width="1.8" fill="none"/>
<circle cx="411.8" cy="191.4" r="2.8" fill="#000"/>
<circle cx="411.8" cy="204.4" r="2.9" fill="#fff" stroke="#000" stroke-width="2.0"/>
<path d="M416,173 L419.6,173 L419.6,188 L423,191.8 L419.6,195.5 L419.6,211 L416,211" fill="none" stroke="#000" stroke-width="2"/>
<rect x="304" y="13.3" width="2.4" height="1.6" fill="#222"/>
<rect x="412" y="488.6" width="2" height="1.4" fill="#444"/>
<rect x="434" y="488.6" width="2.4" height="1.4" fill="#444"/>
<line x1="158.9" y1="356.5" x2="123" y2="293" stroke="#000" stroke-width="2.2"/>
<path d="M116.6,283.8 L129.6,291.3 L118,298.6 Z" fill="#000"/>
</g>
<g filter="url(#b2)" stroke="#000" stroke-width="0.3">
<text x="255.8" y="57.2" font-size="18.0" font-weight="bold" text-anchor="start" textLength="57.5" lengthAdjust="spacingAndGlyphs" stroke-width="0.9">CUPRIC</text>
<text x="321.0" y="57.2" font-size="18.0" font-weight="bold" text-anchor="start" textLength="69.6" lengthAdjust="spacingAndGlyphs" stroke-width="0.9">NITRATE</text>
<text x="406.0" y="57.2" font-size="18.0" font-weight="bold" text-anchor="start" textLength="5.0" lengthAdjust="spacingAndGlyphs" stroke-width="0.9">&quot;</text>
<text x="413.5" y="57.2" font-size="18.0" font-weight="bold" text-anchor="start" textLength="102.0" lengthAdjust="spacingAndGlyphs" stroke-width="0.9">TRIHYDRATE</text>
<text x="517.7" y="57.2" font-size="18.0" font-weight="bold" text-anchor="start" textLength="5.0" lengthAdjust="spacingAndGlyphs" stroke-width="0.9">&quot;</text>
<text x="327" y="82.6" font-size="18" stroke-width="0.8" font-weight="bold" textLength="71" lengthAdjust="spacingAndGlyphs">Cu(NO<tspan dy="4" font-size="12.5">3</tspan><tspan dy="-4">)</tspan><tspan dy="4" font-size="12.5">2</tspan></text>
<text x="400.3" y="82.6" font-size="18" stroke-width="1.2" font-weight="bold">·</text>
<text x="408.6" y="82.6" font-size="18" stroke-width="0.8" font-weight="bold" textLength="60" lengthAdjust="spacingAndGlyphs">2.5 H<tspan dy="4" font-size="12.5">2</tspan><tspan dy="-4">O</tspan></text>
<text x="422.0" y="135.4" font-size="17.5" font-weight="bold" text-anchor="start" textLength="51.7" lengthAdjust="spacingAndGlyphs" stroke-width="0.5">Powder</text>
<text x="422.0" y="161.9" font-size="17.5" font-weight="bold" text-anchor="start" textLength="106.6" lengthAdjust="spacingAndGlyphs" stroke-width="0.5">Parallel b axis</text>
<text x="425.0" y="198.9" font-size="17.5" font-weight="bold" text-anchor="start" textLength="150.5" lengthAdjust="spacingAndGlyphs" stroke-width="0.5">Perpendicular b axis</text>
<text x="27.3" y="404.8" font-size="18.0" font-weight="bold" text-anchor="start" textLength="35.5" lengthAdjust="spacingAndGlyphs" >0.01</text>
<text x="27.3" y="357.6" font-size="18.0" font-weight="bold" text-anchor="start" textLength="35.5" lengthAdjust="spacingAndGlyphs" >0.02</text>
<text x="27.3" y="310.4" font-size="18.0" font-weight="bold" text-anchor="start" textLength="35.5" lengthAdjust="spacingAndGlyphs" >0.03</text>
<text x="27.3" y="263.2" font-size="18.0" font-weight="bold" text-anchor="start" textLength="35.5" lengthAdjust="spacingAndGlyphs" >0.04</text>
<text x="27.3" y="216.0" font-size="18.0" font-weight="bold" text-anchor="start" textLength="35.5" lengthAdjust="spacingAndGlyphs" >0.05</text>
<text x="27.3" y="168.8" font-size="18.0" font-weight="bold" text-anchor="start" textLength="35.5" lengthAdjust="spacingAndGlyphs" >0.06</text>
<text x="27.3" y="121.6" font-size="18.0" font-weight="bold" text-anchor="start" textLength="35.5" lengthAdjust="spacingAndGlyphs" >0.07</text>
<text x="27.3" y="74.4" font-size="18.0" font-weight="bold" text-anchor="start" textLength="35.5" lengthAdjust="spacingAndGlyphs" >0.08</text>
<text x="185.3" y="461.7" font-size="17.5" font-weight="bold" text-anchor="middle" >5</text>
<text x="307.3" y="461.7" font-size="17.5" font-weight="bold" text-anchor="middle" >IO</text>
<text x="427.8" y="461.7" font-size="17.5" font-weight="bold" text-anchor="middle" >I5</text>
<text x="546.5" y="461.7" font-size="17.5" font-weight="bold" text-anchor="middle" >20</text>
<text x="282.0" y="483.6" font-size="17.0" font-weight="bold" text-anchor="start" textLength="116.4" lengthAdjust="spacingAndGlyphs" >TEMPERATURE</text>
<text x="404.7" y="483.2" font-size="20.5" font-weight="normal" text-anchor="start" textLength="20.0" lengthAdjust="spacingAndGlyphs" >[K]</text>
<text transform="translate(20.6,305) rotate(-90)" font-size="17" font-weight="bold" textLength="101.5" lengthAdjust="spacingAndGlyphs">[CGS/MOLE]</text>
<text transform="translate(15.2,320) rotate(-90)" font-size="19" font-weight="normal" stroke-width="0.5" textLength="12.5" lengthAdjust="spacingAndGlyphs">χ</text>
</g>
<text x="151" y="383.3" font-size="22.3" font-weight="normal" fill="#111" textLength="140.5" lengthAdjust="spacingAndGlyphs" filter="url(#b3)">Entanglement</text>
<defs><filter id="b" x="-5%" y="-5%" width="110%" height="110%"><feGaussianBlur stdDeviation="0.6"/></filter><filter id="b3" x="-5%" y="-20%" width="110%" height="140%"><feGaussianBlur stdDeviation="0.45"/></filter><filter id="b2" x="-5%" y="-5%" width="110%" height="110%"><feGaussianBlur stdDeviation="0.5"/></filter></defs>
</svg></body></html>
